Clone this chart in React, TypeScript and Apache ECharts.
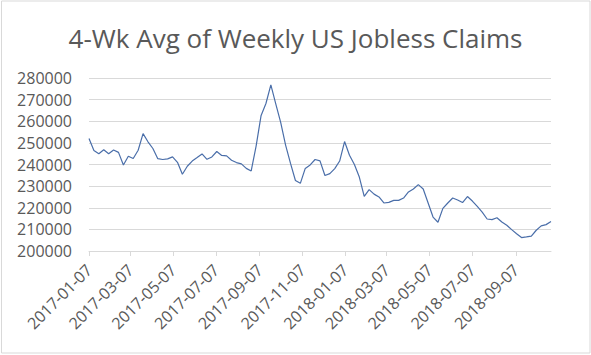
import React, { useEffect, useRef } from "react";
import * as echarts from "echarts";

const TITLE = "4-Wk Avg of Weekly US Jobless Claims";
const START_DATE = "2017-01-07";
const WEEKLY_CLAIMS: number[] = [
  252000, 246500, 245000, 246800, 245000, 246700, 245600, 239800, 243800, 242800,
  246600, 254300, 250500, 247400, 242700, 242300, 242600, 243500, 241000, 235500,
  239200, 241600, 243200, 244900, 242400, 243500, 246000, 244200, 244000, 242000,
  240900, 240300, 238200, 237000, 248500, 262500, 268200, 276800, 268000, 259500,
  249000, 240500, 232600, 231300, 238200, 239800, 242300, 241700, 234900, 235800,
  238100, 241600, 250600, 244300, 240000, 234200, 225300, 228400, 226300, 225000,
  222200, 222500, 223400, 223400, 224500, 227300, 228700, 230700, 228700, 222200,
  215700, 213300, 219700, 222200, 224500, 223600, 222400, 225200, 223100, 220600,
  218000, 214800, 214500, 215400, 213400, 211900, 209900, 208000, 206200, 206500,
  206900, 209600, 211600, 212200, 213600,
];
const Y_MIN = 200000;
const Y_MAX = 280000;
const Y_STEP = 10000;

function buildDays(start: string, weeks: number): string[] {
  const out: string[] = [];
  const t0 = Date.parse(start + "T00:00:00Z");
  const n = (weeks - 1) * 7 + 1;
  for (let i = 0; i < n; i++) {
    out.push(new Date(t0 + i * 86400000).toISOString().slice(0, 10));
  }
  return out;
}

const isMajor = (d: string) => {
  const m = parseInt(d.slice(5, 7), 10);
  return d.slice(8, 10) === "07" && m % 2 === 1;
};

export default function App() {
  const ref = useRef<HTMLDivElement>(null);
  useEffect(() => {
    if (!ref.current) return;
    const chart = echarts.init(ref.current, null, { renderer: "svg" });
    const days = buildDays(START_DATE, WEEKLY_CLAIMS.length);
    const seriesData: (number | null)[] = days.map(() => null);
    WEEKLY_CLAIMS.forEach((v, i) => {
      seriesData[i * 7] = v;
    });
    const font = "'Open Sans', 'DejaVu Sans', sans-serif";
    chart.setOption({
      animation: false,
      backgroundColor: "#ffffff",
      title: {
        text: TITLE,
        left: "center",
        top: 20,
        textStyle: { fontFamily: font, fontSize: 26, fontWeight: "normal", color: "#595959" },
      },
      graphic: [
        {
          type: "rect",
          shape: { x: 1.5, y: 1, width: 588.5, height: 352 },
          style: { fill: "none", stroke: "#d9d9d9", lineWidth: 1 },
          silent: true,
        },
      ],
      grid: { left: 89, top: 78, width: 462, height: 173, containLabel: false },
      xAxis: {
        type: "category",
        data: days,
        boundaryGap: false,
        axisLine: { show: true, lineStyle: { color: "#d9d9d9", width: 1 } },
        axisTick: {
          show: true,
          length: 5,
          interval: (_i: number, v: string) => isMajor(v),
          lineStyle: { color: "#d9d9d9" },
        },
        axisLabel: {
          interval: (_i: number, v: string) => isMajor(v),
          rotate: 45,
          margin: 16,
          color: "#595959",
          fontFamily: font,
          fontSize: 16,
        },
        splitLine: { show: false },
      },
      yAxis: {
        type: "value",
        min: Y_MIN,
        max: Y_MAX,
        interval: Y_STEP,
        axisLine: { show: false },
        axisTick: { show: false },
        axisLabel: {
          color: "#595959",
          fontFamily: font,
          fontSize: 16,
          margin: 17,
          formatter: (v: number) => String(v),
        },
        splitLine: { lineStyle: { color: "#d9d9d9", width: 1 } },
      },
      series: [
        {
          type: "line",
          data: seriesData,
          connectNulls: true,
          showSymbol: false,
          lineStyle: { color: "#4a6ea9", width: 1.2 },
        },
      ],
    });
    return () => chart.dispose();
  }, []);
  return (
    <div
      ref={ref}
      style={{ position: "fixed", left: 0, top: 0, width: 591, height: 355 }}
    />
  );
}
